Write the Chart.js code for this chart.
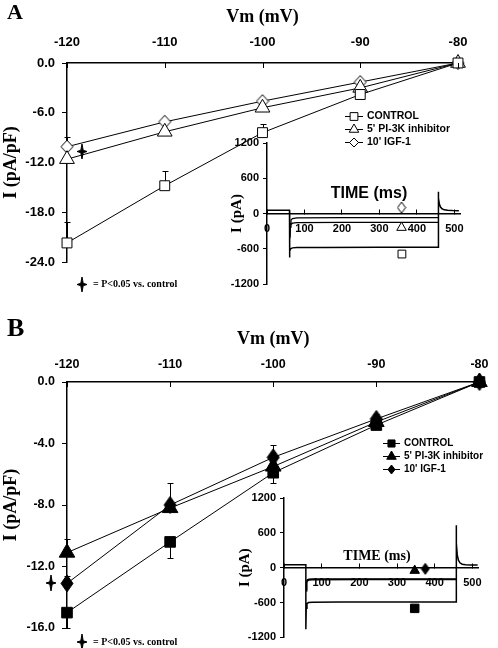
<!DOCTYPE html>
<html>
<head>
<meta charset="utf-8">
<script src="https://cdn.jsdelivr.net/npm/chart.js@4.4.0/dist/chart.umd.min.js"></script>
<style>
  body { margin: 0; background: #fff; }
  #wrap { position: relative; width: 498px; height: 648px; overflow: hidden; }
  canvas { position: absolute; }
  .panel { position: absolute; font: bold 22px "Liberation Serif", serif; line-height: 1; }
</style>
</head>
<body>
<div id="wrap">
  <canvas id="mainA" width="498" height="300" style="left:0;top:0"></canvas>
  <canvas id="insetA" width="255" height="165" style="left:225px;top:130px"></canvas>
  <canvas id="mainB" width="498" height="338" style="left:0;top:310px"></canvas>
  <canvas id="insetB" width="270" height="163" style="left:228px;top:485px"></canvas>
  <div class="panel" style="left:7px;top:1px">A</div>
  <div class="panel" style="left:7px;top:315px;font-size:26px">B</div>
</div>
<script>
// membrane potential (mV)
const vm = [-120, -110, -100, -90, -80];
const seriesNames = ["CONTROL", "5' PI-3K inhibitor", "10' IGF-1"];
const sigNote = "= P<0.05 vs. control";

// panel A, current density (pA/pF) and error (+ up, - down)
const ctrlA = [-21.7, -14.8, -8.4, -3.8, 0];
const pi3kA = [-11.6, -8.3, -5.4, -3.0, 0];
const igfA = [-10.1, -7.1, -4.6, -2.3, 0];
const ctrlErrA = [2.5, 1.8, 1.1, 0, 0];
const pi3kErrA = [0, 0, 0, 0, 0];
const igfErrA = [1.2, 0, 0, 0, 0];
const sigVmA = [-118.5];
const sigIA = [-10.7];

// panel B
const ctrlB = [-15.0, -10.4, -5.9, -2.8, 0];
const pi3kB = [-11.1, -8.2, -5.5, -2.6, 0];
const igfB = [-13.1, -8.0, -4.9, -2.4, 0];
const ctrlErrB = [-1.0, -1.05, -0.7, 0, 0];
const pi3kErrB = [0.9, 0, 0, 0, 0];
const igfErrB = [0.5, 1.4, 0.8, 0.3, 0];
const sigVmB = [-121.6];
const sigIB = [-13.1];

// inset A traces: time (ms), current (pA)
const tCtrlA = [0, 60, 60, 61, 63, 68, 80, 150, 300, 457, 457, 458, 460, 463, 467, 473, 482, 495, 512];
const iCtrlA = [55, 55, -750, -640, -600, -585, -580, -578, -576, -575, 370, 260, 160, 110, 80, 62, 55, 50, 48];
const tPiA = [61, 62, 64, 68, 80, 200, 457];
const iPiA = [-420, -230, -185, -165, -155, -150, -150];
const tIgfA = [61, 62, 64, 68, 80, 200, 457];
const iIgfA = [-400, -170, -110, -85, -75, -70, -70];
const markTA = [360, 359, 359];      // ctrl, pi3k, igf labels
const markIA = [-690, -240, 100];

// inset B traces
const tCtrlB = [0, 58, 58, 59, 61, 65, 75, 150, 300, 457, 457, 458, 460, 463, 467, 473, 482, 495, 514];
const iCtrlB = [50, 50, -1060, -700, -620, -600, -595, -592, -590, -590, 730, 420, 220, 130, 85, 60, 52, 48, 48];
const tPiB = [59, 60, 62, 66, 75, 200, 457];
const iPiB = [-400, -260, -225, -212, -208, -205, -205];
const tIgfB = [59, 60, 62, 66, 75, 200, 457];
const iIgfB = [-380, -240, -210, -200, -196, -195, -195];
const markTB = [347, 347, 375];
const markIB = [-700, -50, -20];

const SANS = "'Liberation Sans', Arial, sans-serif";
const SERIF = "'Liberation Serif', 'Times New Roman', serif";

function pointImg(shape, w, h, fill) {
  const c = document.createElement('canvas');
  c.width = w + 2; c.height = h + 2;
  const g = c.getContext('2d');
  const cx = c.width / 2, cy = c.height / 2;
  g.beginPath();
  if (shape === 'diamond') {
    g.moveTo(cx, cy - h / 2); g.lineTo(cx + w / 2, cy); g.lineTo(cx, cy + h / 2); g.lineTo(cx - w / 2, cy);
  } else {
    const k = 1.2;
    g.moveTo(cx, cy - h / 2); g.lineTo(cx + k, cy - k); g.lineTo(cx + w / 2, cy); g.lineTo(cx + k, cy + k);
    g.lineTo(cx, cy + h / 2); g.lineTo(cx - k, cy + k); g.lineTo(cx - w / 2, cy); g.lineTo(cx - k, cy - k);
  }
  g.closePath();
  g.fillStyle = fill; g.fill();
  g.lineWidth = 1; g.strokeStyle = '#000'; g.stroke();
  return c;
}

const pts = (xs, ys) => xs.map((v, i) => ({ x: v, y: ys[i] }));

// error bars, drawn under the markers
const errorBars = {
  id: 'errorBars',
  beforeDatasetsDraw(chart) {
    const ctx = chart.ctx, xs = chart.scales.x, ys = chart.scales.y;
    ctx.save();
    ctx.strokeStyle = '#000'; ctx.lineWidth = 1;
    chart.data.datasets.forEach(ds => {
      if (!ds.errors) return;
      ds.data.forEach((p, i) => {
        const e = ds.errors[i];
        if (!e) return;
        const x = Math.round(xs.getPixelForValue(p.x)) + 0.5;
        const y0 = ys.getPixelForValue(p.y), y1 = Math.round(ys.getPixelForValue(p.y + e)) + 0.5;
        ctx.beginPath();
        ctx.moveTo(x, y0); ctx.lineTo(x, y1);
        ctx.moveTo(x - 3, y1); ctx.lineTo(x + 3, y1);
        ctx.stroke();
      });
    });
    ctx.restore();
  }
};

// significance stars, placed through the scales (may sit outside the plot area)
const sigMarks = {
  id: 'sigMarks',
  afterDatasetsDraw(chart, args, o) {
    if (!o || !o.xs) return;
    const ctx = chart.ctx, xs = chart.scales.x, ys = chart.scales.y;
    o.xs.forEach((v, i) => {
      const px = xs.getPixelForValue(v), py = ys.getPixelForValue(o.ys[i]);
      ctx.drawImage(o.img, Math.round(px - o.img.width / 2), Math.round(py - o.img.height / 2));
    });
  }
};

// small inward ticks on the top axis
const topTicks = {
  id: 'topTicks',
  afterDraw(chart) {
    const ctx = chart.ctx, xs = chart.scales.x, top = chart.chartArea.top;
    ctx.save();
    ctx.strokeStyle = '#000'; ctx.lineWidth = 1;
    xs.ticks.forEach(t => {
      const x = Math.round(xs.getPixelForValue(t.value)) + 0.5;
      ctx.beginPath(); ctx.moveTo(x, top); ctx.lineTo(x, top + 5); ctx.stroke();
    });
    ctx.restore();
  }
};

// legend with line + marker
const lineLegend = {
  id: 'lineLegend',
  afterDraw(chart, args, o) {
    if (!o || o.left === undefined) return;
    const ctx = chart.ctx, a = chart.chartArea;
    ctx.save();
    ctx.font = o.font; ctx.textBaseline = 'middle';
    chart.data.datasets.filter(d => d.legendText).forEach((d, i) => {
      const x = a.left + o.left, y = Math.round(a.top + o.top + i * o.gap) + 0.5;
      ctx.strokeStyle = '#000'; ctx.lineWidth = 1;
      ctx.beginPath(); ctx.moveTo(x, y); ctx.lineTo(x + o.len, y); ctx.stroke();
      ctx.fillStyle = d.pointBackgroundColor;
      Chart.helpers.drawPoint(ctx, { pointStyle: d.legendStyle || d.pointStyle, radius: d.legendRadius, borderWidth: 1, rotation: 0 }, x + o.len / 2, y);
      ctx.fillStyle = '#000';
      ctx.fillText(d.legendText, x + o.len + o.textGap, y);
    });
    ctx.restore();
  }
};

// free text: significance note, inset axis title
const notes = {
  id: 'notes',
  afterDraw(chart, args, o) {
    if (!o || !o.items) return;
    const ctx = chart.ctx;
    ctx.save();
    ctx.fillStyle = '#000'; ctx.textBaseline = 'middle';
    o.items.forEach(it => {
      if (it.img) ctx.drawImage(it.img, Math.round(it.x - it.img.width / 2), Math.round(it.y - it.img.height / 2));
      if (it.text) { ctx.font = it.font; ctx.textAlign = it.align || 'left'; ctx.fillText(it.text, it.tx, it.y); }
    });
    ctx.restore();
  }
};

function ivSet(name, vals, errs, style, radius, fill, legendStyle, legendRadius) {
  return {
    legendText: name,
    data: pts(vm, vals),
    errors: errs,
    showLine: true,
    clip: false,
    borderColor: '#000',
    borderWidth: 1,
    pointStyle: style,
    pointRadius: radius,
    pointHoverRadius: radius,
    pointBackgroundColor: fill,
    pointBorderColor: '#000',
    pointBorderWidth: 1,
    legendStyle: legendStyle,
    legendRadius: legendRadius
  };
}

function ivChart(id, datasets, yMin, yStep, lay, legend, sig, noteItems) {
  const tickFont = { family: SANS, weight: 'bold', size: lay.tickSize };
  return new Chart(document.getElementById(id), {
    type: 'scatter',
    data: { datasets: datasets },
    plugins: [errorBars, topTicks, lineLegend, sigMarks, notes],
    options: {
      responsive: false,
      animation: false,
      events: [],
      layout: { padding: { left: 0, top: 0, right: lay.right, bottom: lay.bottom } },
      plugins: {
        legend: { display: false },
        tooltip: { enabled: false },
        lineLegend: legend,
        sigMarks: sig,
        notes: { items: noteItems }
      },
      scales: {
        x: {
          type: 'linear', position: 'top', min: -120, max: -80,
          ticks: { stepSize: 10, padding: lay.xPad, color: '#000', font: tickFont },
          grid: { drawOnChartArea: false, drawTicks: false },
          border: { color: '#000', width: 1.5 },
          title: { display: true, text: 'Vm (mV)', color: '#000', font: { family: SERIF, weight: 'bold', size: 18 }, padding: { top: lay.titlePad, bottom: 0 } },
          afterFit: s => { s.height = lay.xHeight; }
        },
        y: {
          type: 'linear', min: yMin, max: 0,
          ticks: { stepSize: yStep, padding: 7, color: '#000', font: tickFont, callback: v => v.toFixed(1) },
          grid: { drawOnChartArea: false, tickLength: 5, color: '#000' },
          border: { color: '#000', width: 1.5 },
          title: { display: true, text: 'I (pA/pF)', color: '#000', font: { family: SERIF, weight: 'bold', size: 18 }, padding: { top: 1, bottom: 0 } },
          afterFit: s => { s.width = 67; }
        }
      }
    }
  });
}

function traceSet(xs, ys, w) {
  return { data: pts(xs, ys), showLine: true, borderColor: '#000', borderWidth: w, pointRadius: 0, clip: false };
}
function markSet(x, y, style, radius, fill) {
  return { data: [{ x: x, y: y }], pointStyle: style, pointRadius: radius, pointBackgroundColor: fill, pointBorderColor: '#000', pointBorderWidth: 1, clip: false };
}

function insetChart(id, datasets, lay, noteItems) {
  const tickFont = { family: SANS, weight: 'bold', size: 11 };
  return new Chart(document.getElementById(id), {
    type: 'scatter',
    data: { datasets: datasets },
    plugins: [notes],
    options: {
      responsive: false,
      animation: false,
      events: [],
      layout: { padding: { left: 0, top: lay.top, right: lay.right, bottom: lay.bottom } },
      plugins: { legend: { display: false }, tooltip: { enabled: false }, notes: { items: noteItems } },
      scales: {
        x: {
          type: 'linear', position: { y: 0 }, min: 0, max: lay.xMax,
          ticks: { stepSize: 100, includeBounds: false, padding: 14, color: '#000', font: tickFont, autoSkip: false, callback: v => String(v) },
          grid: { drawOnChartArea: false, tickLength: -5, color: '#000' },
          border: { color: '#000', width: 1.5 },
          afterFit: s => { s.height = 0; }
        },
        y: {
          type: 'linear', min: -1200, max: 1200,
          ticks: { stepSize: 600, padding: 4, color: '#000', font: tickFont, callback: v => String(v) },
          grid: { drawOnChartArea: false, tickLength: 4, color: '#000' },
          border: { color: '#000', width: 1.5 },
          title: { display: true, text: 'I (pA)', color: '#000', font: { family: SERIF, weight: 'bold', size: 15 }, padding: { top: lay.titlePad, bottom: 0 } },
          afterFit: s => { s.width = lay.yWidth; }
        }
      }
    }
  });
}

// ---- panel A ----
const starA = pointImg('star', 10, 15, '#000');
const diamA = pointImg('diamond', 12, 13, '#fff');
ivChart('mainA', [
  ivSet(seriesNames[0], ctrlA, ctrlErrA, 'rect', 7, '#fff', null, 5.5),
  ivSet(seriesNames[1], pi3kA, pi3kErrA, 'triangle', 8.5, '#fff', null, 5.5),
  ivSet(seriesNames[2], igfA, igfErrA, diamA, 7, '#fff', 'rectRot', 4.5)
], -24, 6,
  { tickSize: 13, right: 40, bottom: 38, xPad: 13, titlePad: 7, xHeight: 63 },
  { left: 278, top: 53, gap: 13, len: 18, textGap: 4, font: "bold 10.5px " + SANS },
  { xs: sigVmA, ys: sigIA, img: starA },
  [{ img: starA, x: 82, y: 284, text: sigNote, tx: 93, font: "bold 10px " + SERIF }]
);

insetChart('insetA', [
  markSet(markTA[0], markIA[0], 'rect', 5.5, '#fff'),
  markSet(markTA[1], markIA[1], 'triangle', 5.5, '#fff'),
  markSet(markTA[2], markIA[2], pointImg('diamond', 8, 11, '#fff'), 5, '#fff'),
  traceSet(tCtrlA, iCtrlA, 1.5),
  traceSet(tPiA, iPiA, 1.3),
  traceSet(tIgfA, iIgfA, 1.3)
], { top: 13, bottom: 11, right: 20, xMax: 515, yWidth: 42, titlePad: 3 },
  [{ text: 'TIME (ms)', tx: 144, y: 64, align: 'center', font: "bold 16px " + SANS }]
);

// ---- panel B ----
const starB = pointImg('star', 10, 16, '#000');
const diamB = pointImg('diamond', 12, 17, '#000');
ivChart('mainB', [
  ivSet(seriesNames[0], ctrlB, ctrlErrB, 'rect', 7.5, '#000', null, 5),
  ivSet(seriesNames[1], pi3kB, pi3kErrB, 'triangle', 9, '#000', null, 5.5),
  ivSet(seriesNames[2], igfB, igfErrB, diamB, 7, '#000', pointImg('diamond', 7, 9, '#000'), 4)
], -16, 4,
  { tickSize: 12.5, right: 11, bottom: 20, xPad: 9.5, titlePad: 19, xHeight: 72 },
  { left: 316, top: 61, gap: 12.8, len: 17, textGap: 4, font: "bold 10px " + SANS },
  { xs: sigVmB, ys: sigIB, img: starB },
  [{ img: starB, x: 82, y: 332, text: sigNote, tx: 93, font: "bold 10px " + SERIF }]
);

insetChart('insetB', [
  markSet(markTB[0], markIB[0], 'rect', 6, '#000'),
  markSet(markTB[1], markIB[1], 'triangle', 5.5, '#000'),
  markSet(markTB[2], markIB[2], pointImg('diamond', 8, 11, '#000'), 5, '#000'),
  traceSet(tCtrlB, iCtrlB, 1.5),
  traceSet(tPiB, iPiB, 1.5),
  traceSet(tIgfB, iIgfB, 1.5)
], { top: 13, bottom: 5, right: 20, xMax: 515, yWidth: 56, titlePad: 8 },
  [{ text: 'TIME (ms)', tx: 149, y: 71, align: 'center', font: "bold 14px " + SERIF }]
);
</script>
</body>
</html>
